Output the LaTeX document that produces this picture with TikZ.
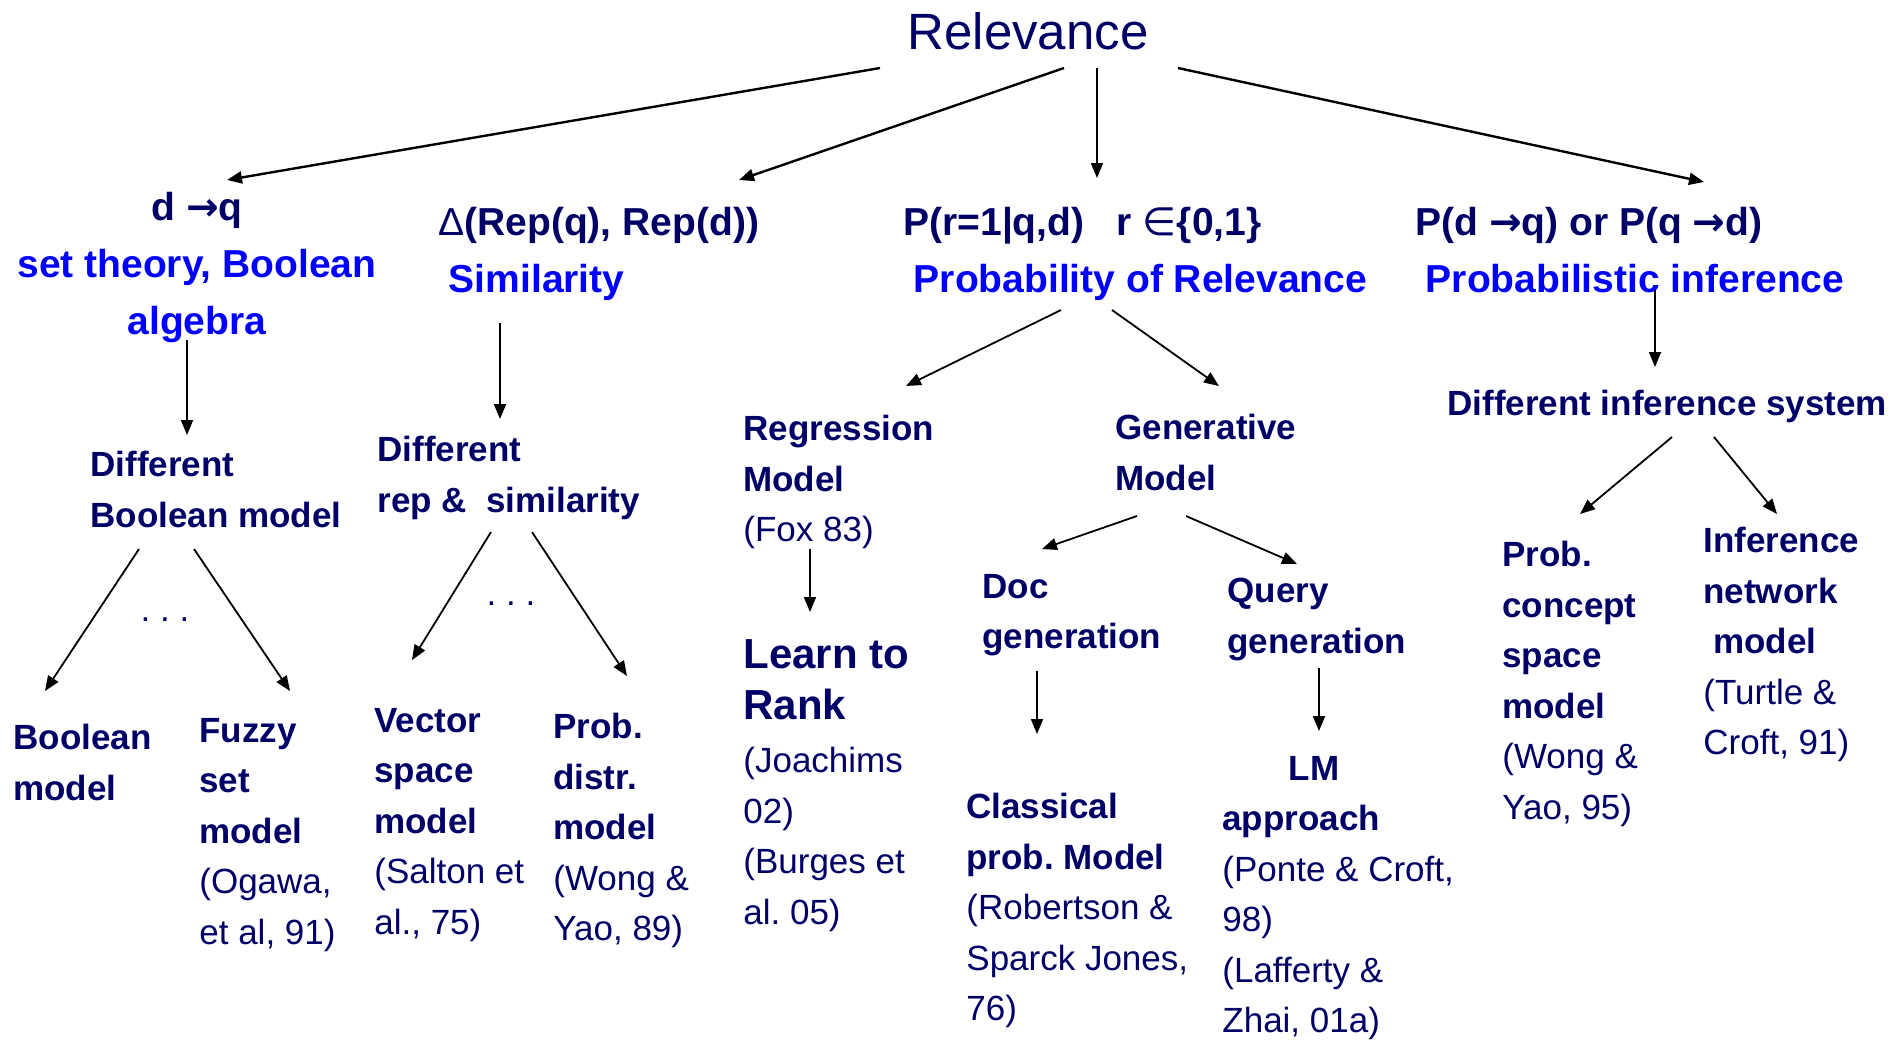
\documentclass[tikz,border=0pt]{standalone}
\usepackage{fontspec}
\setmainfont{Liberation Sans}
\newfontfamily\symfont{DejaVu Sans}
\usetikzlibrary{arrows.meta,calc}
\definecolor{labnavy}{RGB}{0,0,102}
\definecolor{headblue}{RGB}{0,0,255}
\newcommand{\refsrc}[1]{{\mdseries #1}}
\newcommand{\hb}[1]{{\color{headblue}#1}}
\frenchspacing

\begin{document}
\begin{tikzpicture}[x=0.5pt,y=-0.5pt,
    leaf/.style={anchor=north west, inner sep=0pt, align=left, text=labnavy,
                 font=\fontsize{17.5}{25.25}\selectfont\bfseries},
    branch/.style={anchor=north west, inner sep=0pt, align=left, text=labnavy,
                   font=\fontsize{19.5}{28.5}\selectfont\bfseries},
    dots/.style={anchor=base, inner sep=0pt, text=labnavy, font=\fontsize{17.5}{20}\selectfont},
    link/.style={-{Triangle[length=7.5pt,width=6pt]}, line width=0.9pt},
    biglink/.style={link, line width=1.2pt}
]
    \useasboundingbox (0,0) rectangle (1891,1046);

    \node[inner sep=0pt, anchor=base, text=labnavy, font=\fontsize{25.5}{30}\selectfont] (rel) at (1028,49) {Relevance};

    % four views of relevance
    \node[branch, anchor=north, align=center] (dq) at (197,192) {d {\symfont →}q\\\hb{set theory, Boolean}\\\hb{algebra}};
    \node[branch] (sim) at (438,207) {{\mdseries Δ}(Rep(q), Rep(d))\\\hspace*{0.27em}\hb{Similarity}};
    \node[branch] (prel) at (903,207) {P(r=1|q,d)\ \ \ r {\symfont\mdseries ∈}\{0,1\}\\\hspace*{0.27em}\hb{Probability of Relevance}};
    \node[branch] (pinf) at (1415,207) {P(d {\symfont →}q) or P(q {\symfont →}d)\\\hspace*{0.27em}\hb{Probabilistic inference}};

    % second level
    \node[leaf] (boolgen) at (90,451) {Different\\Boolean model};
    \node[leaf] (repgen) at (377,436) {Different\\rep \&\ \ similarity};
    \node[leaf] (regr) at (743,415) {Regression\\Model\\\refsrc{(Fox 83)}};
    \node[leaf] (gen) at (1115,414) {Generative\\Model};
    \node[leaf] (infsys) at (1447,390) {Different inference system};

    % models
    \node[leaf] (boolm) at (13,724) {Boolean\\model};
    \node[leaf] (fuzzy) at (199,718) {Fuzzy\\set\\model\\\refsrc{(Ogawa,}\\\refsrc{et al, 91)}};
    \node[leaf] (vector) at (374,708) {Vector\\space\\model\\\refsrc{(Salton et}\\\refsrc{al., 75)}};
    \node[leaf] (probd) at (553,713) {Prob.\\distr.\\model\\\refsrc{(Wong \&}\\\refsrc{Yao, 89)}};
    \node[leaf, font=\fontsize{21}{25.5}\selectfont\bfseries] (ltr) at (743,639) {Learn to\\Rank};
    \node[leaf, font=\fontsize{17.5}{25.25}\selectfont] (ltrref) at (743,747) {(Joachims\\02)\\(Burges et\\al. 05)};
    \node[leaf] (docg) at (982,574) {Doc\\generation};
    \node[leaf] (qryg) at (1227,578) {Query\\generation};
    \node[leaf] (classic) at (966,793) {Classical\\prob. Model\\\refsrc{(Robertson \&}\\\refsrc{Sparck Jones,}\\\refsrc{76)}};
    \node[leaf] (lm) at (1222,756) {\hspace*{1.9em}LM\\approach\\\refsrc{(Ponte \& Croft,}\\\refsrc{98)}\\\refsrc{(Lafferty \&}\\\refsrc{Zhai, 01a)}};
    \node[leaf] (pcs) at (1502,541) {Prob.\\concept\\space\\model\\\refsrc{(Wong \&}\\\refsrc{Yao, 95)}};
    \node[leaf] (inet) at (1703,527) {Inference\\network\\\hspace*{0.28em}model\\\refsrc{(Turtle \&}\\\refsrc{Croft, 91)}};

    \node[dots] (dotsA) at (165,621) {. . .};
    \node[dots] (dotsB) at (511,605) {. . .};

    % arrows
    \draw[biglink] ($(rel.base)+(-148,19)$) -- ($(dq.north)+(30,-12)$);
    \draw[biglink] ($(rel.base)+(36,19)$) -- ($(sim.north west)+(301,-27)$);
    \draw[link] ($(rel.base)+(69,19)$) -- ($(prel.north west)+(194,-29)$);
    \draw[biglink] ($(rel.base)+(150,19)$) -- ($(pinf.north west)+(289,-25)$);

    \draw[link] ($(dq.north)+(-10,148)$) -- ($(boolgen.north west)+(97,-16)$);
    \draw[link] ($(sim.north west)+(62,116)$) -- ($(repgen.north west)+(123,-17)$);
    \draw[link] ($(prel.north west)+(158,103)$) -- ($(regr.north west)+(163,-29)$);
    \draw[link] ($(prel.north west)+(209,103)$) -- ($(gen.north west)+(104,-28)$);
    \draw[link] ($(pinf.north west)+(240,83)$) -- ($(infsys.north west)+(208,-23)$);

    \draw[link] ($(boolgen.north west)+(49,98)$) -- ($(boolm.north west)+(32,-33)$);
    \draw[link] ($(boolgen.north west)+(104,98)$) -- ($(fuzzy.north west)+(91,-27)$);
    \draw[link] ($(repgen.north west)+(114,96)$) -- ($(vector.north west)+(38,-48)$);
    \draw[link] ($(repgen.north west)+(155,96)$) -- ($(probd.north west)+(74,-37)$);
    \draw[link] ($(regr.north west)+(67,134)$) -- ($(ltr.north west)+(67,-27)$);
    \draw[link] ($(gen.north west)+(22,102)$) -- ($(docg.north west)+(60,-25)$);
    \draw[link] ($(gen.north west)+(71,102)$) -- ($(qryg.north west)+(70,-14)$);
    \draw[link] ($(docg.north west)+(55,97)$) -- ($(classic.north west)+(71,-59)$);
    \draw[link] ($(qryg.north west)+(92,90)$) -- ($(lm.north west)+(97,-25)$);
    \draw[link] ($(infsys.north west)+(225,47)$) -- ($(pcs.north west)+(78,-27)$);
    \draw[link] ($(infsys.north west)+(267,47)$) -- ($(inet.north west)+(74,-13)$);
\end{tikzpicture}
\end{document}
